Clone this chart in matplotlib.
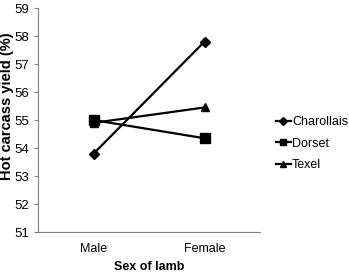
import matplotlib
matplotlib.use("Agg")
import matplotlib.pyplot as plt

plt.rcParams['font.family'] = ['Liberation Sans', 'DejaVu Sans']

sexes = ['Male', 'Female']
charollais = [53.8, 57.8]
dorset = [55.0, 54.35]
texel = [54.9, 55.45]

fig = plt.figure(figsize=(3.49, 2.76), dpi=100)
ax = fig.add_axes([0.109, 0.159, 0.636, 0.812])

x = range(len(sexes))
ax.plot(x, charollais, 'k-', marker='D', ms=5, lw=1.6, label='Charollais')
ax.plot(x, dorset, 'k-', marker='s', ms=6.5, lw=1.6, label='Dorset')
ax.plot(x, texel, 'k-', marker='^', ms=6, lw=1.6, label='Texel')

ax.set_xlim(-0.5, 1.5)
ax.set_ylim(51, 59)
ax.set_yticks(range(51, 60))
ax.set_xticks(list(x))
ax.set_xticklabels(sexes)
ax.tick_params(axis='both', labelsize=9, color='#808080', length=3)
ax.tick_params(axis='y', labelsize=9.5)
ax.tick_params(axis='x', length=0, pad=8)
for s in ['top', 'right']:
    ax.spines[s].set_visible(False)
for s in ['left', 'bottom']:
    ax.spines[s].set_color('#808080')

ax.set_ylabel('Hot carcass yield (%)', fontsize=10.5, fontweight='bold')
ax.yaxis.set_label_coords(-0.11, 0.56)
ax.set_xlabel('Sex of lamb', fontsize=9, fontweight='bold', labelpad=4)

leg = ax.legend(loc='center left', bbox_to_anchor=(1.02, 0.395), frameon=False,
                fontsize=9, handlelength=1.2, handletextpad=0.1, labelspacing=0.75)
for h in leg.legend_handles:
    h.set_markersize(4.5)

fig.savefig('out.png', dpi=100)
